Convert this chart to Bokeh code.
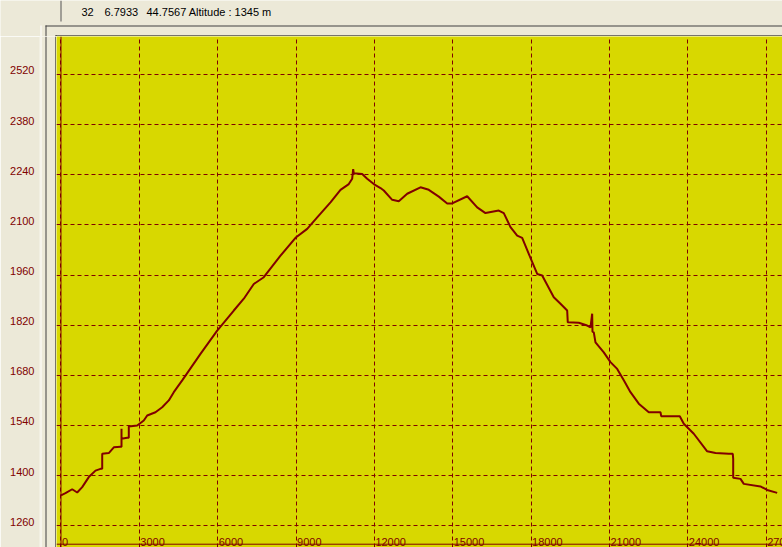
from bokeh.plotting import figure
from bokeh.layouts import column, row
from bokeh.models import Range1d, FixedTicker, Grid, Span, BoxAnnotation, ColumnDataSource
from bokeh.core.properties import value
from bokeh.embed import file_html
from bokeh.resources import INLINE

# ---------------- data ----------------
distance = [0, 172, 429, 620, 812, 1064, 1321, 1512, 1578, 1578,
            1830, 2022, 2278, 2317, 2317, 2317, 2535, 2596, 2596, 2918,
            3170, 3301, 3618, 3875, 4128, 4319, 4641, 5341, 5981, 6617,
            7000, 7382, 7765, 8405, 8979, 9427, 9810, 10319, 10702, 11020,
            11150, 11188, 11211, 11533, 11724, 11977, 12234, 12360, 12682, 12934,
            13256, 13765, 14083, 14466, 14788, 14979, 15553, 15936, 16254, 16763,
            16955, 17211, 17468, 17659, 17912, 18234, 18425, 18869, 19126, 19382,
            19405, 19827, 20148, 20275, 20339, 20351, 20401, 20466, 20784, 21040,
            21297, 21550, 21806, 22124, 22507, 22955, 22982, 23694, 23847, 24230,
            24743, 25061, 25570, 25723, 25739, 25739, 26018, 26145, 26784, 27040,
            27423]
altitude = [1345, 1351, 1362, 1353, 1368, 1396, 1414, 1419, 1419, 1461,
            1463, 1479, 1481, 1481, 1531, 1503, 1506, 1506, 1537, 1540,
            1554, 1568, 1577, 1591, 1610, 1633, 1666, 1740, 1805, 1861,
            1894, 1935, 1954, 2014, 2064, 2089, 2121, 2163, 2198, 2214,
            2229, 2256, 2244, 2242, 2229, 2214, 2203, 2196, 2170, 2166,
            2187, 2205, 2198, 2179, 2160, 2160, 2180, 2149, 2133, 2140,
            2133, 2094, 2070, 2064, 2019, 1963, 1959, 1898, 1880, 1861,
            1828, 1827, 1819, 1814, 1852, 1802, 1800, 1772, 1744, 1717,
            1698, 1666, 1633, 1601, 1577, 1577, 1566, 1566, 1545, 1517,
            1468, 1463, 1461, 1461, 1447, 1394, 1391, 1377, 1370, 1360,
            1352]

y_ticks = [1260, 1400, 1540, 1680, 1820, 1960, 2100, 2240, 2380, 2520]
x_ticks = [0, 3000, 6000, 9000, 12000, 15000, 18000, 21000, 24000, 27000]
x_tick_labels = ["0", "3000", "6000", "9000", "12000", "15000", "18000",
                 "21000", "24000", "27000"]
header_texts = ["32", "6.7933", "44.7567 Altitude : 1345 m"]
base_line_alt = 1208.6

# ---------------- styles ----------------
BG = "#ECE9D8"
YELLOW = "#D8D800"
DARKRED = "#800000"
FONT = "Liberation Sans"

def bare(fig, bg):
    fig.background_fill_color = bg
    fig.border_fill_color = bg
    fig.outline_line_color = None
    fig.grid.visible = False
    return fig

# ---------------- header strip (pixel coordinates) ----------------
hdr = figure(width=782, height=36, output_backend="svg", toolbar_location=None,
             x_range=Range1d(0, 782), y_range=Range1d(36, 0),
             x_axis_location=None, y_axis_location=None,
             min_border_left=0, min_border_right=0, min_border_top=0, min_border_bottom=0)
bare(hdr, BG)
hdr.quad(left=[60, 45, 40, 45, 55, 55], right=[61, 782, 41, 46, 782, 56],
         top=[0, 25, 25, 25, 35, 35], bottom=[21, 26, 36, 36, 36, 36],
         fill_color=["#555555", "#404040", "#FFFFFF", "#404040", "#000000", "#000000"],
         line_color=None)
hdr.text(x=[81, 104, 146], y=[11.5, 11.5, 11.5], text=header_texts,
         text_baseline="middle", text_align="left", text_color="#000000",
         text_font=value(FONT), text_font_size="11px")

# ---------------- left panel with y axis labels ----------------
left = figure(width=56, height=511, output_backend="svg", toolbar_location=None,
              x_range=Range1d(39, 56), y_range=Range1d(1188.2, 2614.8),
              x_axis_location=None,
              min_border_left=39, min_border_right=0, min_border_top=0, min_border_bottom=0)
bare(left, BG)
ax = left.yaxis[0]
ax.ticker = FixedTicker(ticks=y_ticks)
ax.axis_line_color = None
ax.major_tick_line_color = None
ax.minor_tick_line_color = None
ax.major_tick_out = 0
ax.major_tick_in = 0
ax.major_label_standoff = 5
ax.major_label_text_color = DARKRED
ax.major_label_text_font = FONT
ax.major_label_text_font_size = "11px"
ax.major_label_text_baseline = "middle"
for l, r, c in [(40, 41, "#FFFFFF"), (45, 46, "#404040"), (55, 56, "#000000")]:
    left.add_layout(BoxAnnotation(left=l, right=r, fill_color=c, fill_alpha=1.0, line_color=None))

# ---------------- main plot ----------------
p = figure(width=726, height=511, output_backend="svg", toolbar_location=None,
           x_range=Range1d(-172.3, 27627), y_range=Range1d(1199.4, 2626.0),
           x_axis_location=None, y_axis_location=None,
           min_border_left=0, min_border_right=0, min_border_top=0, min_border_bottom=0)
bare(p, YELLOW)

p.add_layout(Grid(dimension=0, ticker=FixedTicker(ticks=x_ticks), grid_line_color=DARKRED,
                  grid_line_dash="4 3", grid_line_width=1))
p.add_layout(Grid(dimension=1, ticker=FixedTicker(ticks=y_ticks), grid_line_color=DARKRED,
                  grid_line_dash="4 3", grid_line_width=1))

p.add_layout(Span(location=0, dimension="height", line_color=DARKRED, line_width=1))
p.add_layout(Span(location=base_line_alt, dimension="width", line_color=DARKRED, line_width=1))

src = ColumnDataSource(dict(x=x_ticks, y=[1203.6] * len(x_ticks), t=x_tick_labels))
p.text(x="x", y="y", text="t", source=src, text_align="left", text_baseline="bottom",
       text_color=DARKRED, text_font=value(FONT), text_font_size="11px", x_offset=1)

p.line(distance, altitude, line_color=DARKRED, line_width=2)

layout = column(hdr, row(left, p, spacing=0), spacing=0)
open("out.html", "w").write(file_html(layout, INLINE))
